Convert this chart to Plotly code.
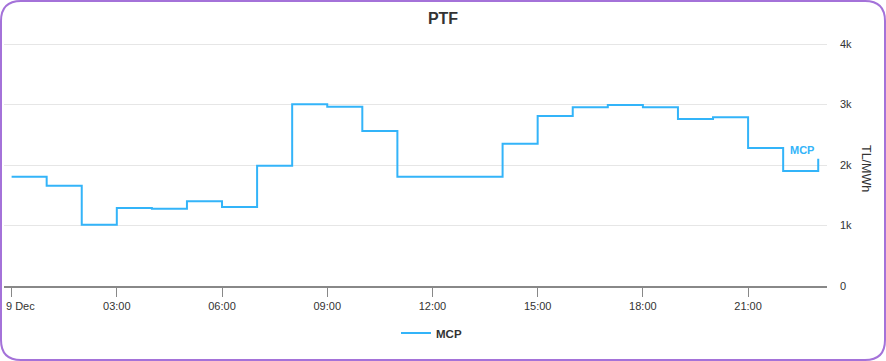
import plotly.graph_objects as go
from datetime import datetime, timedelta

# ---- data ----
date = "2023-12-09"
hours = ["00:00", "01:00", "02:00", "03:00", "04:00", "05:00", "06:00", "07:00",
         "08:00", "09:00", "10:00", "11:00", "12:00", "13:00", "14:00", "15:00",
         "16:00", "17:00", "18:00", "19:00", "20:00", "21:00", "22:00", "23:00"]
mcp = [1806, 1658, 1013, 1289, 1278, 1400, 1306, 1988,
       3003, 2964, 2562, 1807, 1807, 1807, 2352, 2810,
       2953, 2992, 2953, 2760, 2788, 2281, 1901, 2104]
series_name = "MCP"
title_text = "PTF"
y_title = "TL/MWh"
x_tick_hours = ["00:00", "03:00", "06:00", "09:00", "12:00", "15:00", "18:00", "21:00"]
x_tick_labels = ["9 Dec", "03:00", "06:00", "09:00", "12:00", "15:00", "18:00", "21:00"]
y_tick_vals = [0, 1000, 2000, 3000, 4000]
y_tick_labels = ["0", "1k", "2k", "3k", "4k"]

line_color = "#33b4f9"
text_color = "#333333"
font_family = "Liberation Sans, Arial, sans-serif"

times = [f"{date} {h}" for h in hours]
tick_times = [f"{date} {h}" for h in x_tick_hours]
t0 = datetime.strptime(times[0], "%Y-%m-%d %H:%M")
x_range = [t0 - timedelta(minutes=13), t0 + timedelta(hours=23, minutes=15)]

fig = go.Figure()
fig.add_trace(go.Scatter(
    x=times, y=mcp, name=series_name, mode="lines",
    line=dict(color=line_color, width=2, shape="hv"),
    hovertemplate="%{x|%H:%M}: %{y}<extra></extra>",
))

W, H = 886, 361
ml, mr, mt, mb = 4, 59, 41, 75
ph = H - mt - mb
y_top = 4000 * ph / (H - mb - 44)   # keep 4k line at y=44, below the plot edge

fig.update_layout(
    width=W, height=H,
    margin=dict(l=ml, r=mr, t=mt, b=mb, pad=0),
    paper_bgcolor="white", plot_bgcolor="white",
    font=dict(family=font_family, size=11, color=text_color),
    title=dict(text=title_text, x=0.5, xref="container", xanchor="center",
               y=(H - 18) / H, yref="container", yanchor="middle",
               font=dict(size=16, color=text_color, weight="bold")),
    showlegend=True,
    legend=dict(orientation="h", xref="container", yref="container",
                x=(436 - 40) / W, xanchor="left", y=28 / H, yanchor="middle",
                font=dict(size=11.5, color=text_color, weight="bold"),
                bgcolor="rgba(0,0,0,0)", borderwidth=0),
    xaxis=dict(
        type="date", range=x_range,
        tickmode="array", tickvals=tick_times,
        ticktext=[""] + x_tick_labels[1:],
        ticks="outside", ticklen=9, tickcolor="#888888", tickwidth=1,
        showline=True, linecolor="#888888", linewidth=1.5,
        showgrid=False, zeroline=False,
        tickfont=dict(size=11, color=text_color),
    ),
    yaxis=dict(
        side="right", range=[0, y_top],
        tickmode="array", tickvals=y_tick_vals, ticktext=y_tick_labels,
        showgrid=True, gridcolor="#e6e6e6", gridwidth=1,
        zeroline=False, showline=False, ticks="",
        ticklabelstandoff=12,
        tickfont=dict(size=11, color=text_color),
    ),
)

# first x tick label, kept inside the chart like the original
fig.add_annotation(
    x=tick_times[0], y=0, xref="x", yref="paper", text=x_tick_labels[0],
    showarrow=False, xanchor="left", yanchor="top", xshift=-8, yshift=-12,
    font=dict(size=11, color=text_color),
)

# series label at the end of the line
fig.add_annotation(
    x=times[-1], y=mcp[-1], xref="x", yref="y", text=series_name,
    showarrow=False, xanchor="right", yanchor="middle", xshift=-2, yshift=9,
    font=dict(size=11, color=line_color, weight="bold"),
)

pw = W - ml - mr

def px(xp):
    return (xp - ml) / pw
def py(yp):
    return (H - mb - yp) / ph

# y axis title reading top-to-bottom
fig.add_annotation(
    x=px(866), y=py(168), xref="paper", yref="paper", text=y_title,
    showarrow=False, textangle=90, xanchor="center", yanchor="middle",
    font=dict(size=12.5, color=text_color),
)

# rounded purple frame around the whole chart (paper coords)
x0, x1, y0, y1, r = 1, W - 1, 1, H - 1, 20
path = (f"M {px(x0 + r)},{py(y0)} L {px(x1 - r)},{py(y0)} "
        f"Q {px(x1)},{py(y0)} {px(x1)},{py(y0 + r)} "
        f"L {px(x1)},{py(y1 - r)} Q {px(x1)},{py(y1)} {px(x1 - r)},{py(y1)} "
        f"L {px(x0 + r)},{py(y1)} Q {px(x0)},{py(y1)} {px(x0)},{py(y1 - r)} "
        f"L {px(x0)},{py(y0 + r)} Q {px(x0)},{py(y0)} {px(x0 + r)},{py(y0)} Z")
fig.add_shape(type="path", path=path, xref="paper", yref="paper",
              line=dict(color="#a472d9", width=2), layer="above")

fig.write_html("out.html", config={"displayModeBar": False},
               post_script="document.body.style.margin='0';document.body.style.overflow='hidden';")
